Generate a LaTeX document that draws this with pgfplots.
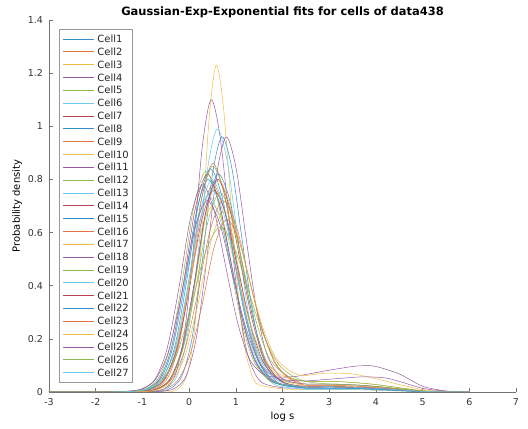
\documentclass[border=0pt]{standalone}
\usepackage{fontspec}
\setmainfont{DejaVu Sans}
\usepackage{pgfplots}
\pgfplotsset{compat=1.18}
\definecolor{mB0}{rgb}{0,0.447,0.741}
\definecolor{mO0}{rgb}{0.85,0.325,0.098}
\definecolor{mY0}{rgb}{0.929,0.694,0.125}
\definecolor{mP0}{rgb}{0.494,0.184,0.556}
\definecolor{mG0}{rgb}{0.466,0.674,0.188}
\definecolor{mC0}{rgb}{0.301,0.745,0.933}
\definecolor{mR0}{rgb}{0.635,0.078,0.184}
\colorlet{mB}{mB0!80!white}
\colorlet{mO}{mO0!80!white}
\colorlet{mY}{mY0!85!white}
\colorlet{mP}{mP0!80!white}
\colorlet{mG}{mG0!85!white}
\colorlet{mC}{mC0!85!white}
\colorlet{mR}{mR0!80!white}
\tikzset{cl/.style={smooth, line width=0.5bp, #1}}
\begin{document}
\begin{tikzpicture}
\path[use as bounding box] (-49bp,-37bp) rectangle (479bp,392bp);
\begin{axis}[
  scale only axis, width=467bp, height=372bp,
  xmin=-3, xmax=7, ymin=0, ymax=1.4,
  axis x line*=bottom, axis y line*=left,
  axis line style={black!55, line width=0.5bp},
  tick style={black!55, line width=0.5bp},
  major tick length=4bp,
  tick align=inside,
  xtick={-3,-2,-1,0,1,2,3,4,5,6,7},
  ytick={0,0.2,0.4,0.6,0.8,1,1.2,1.4},
  /pgf/number format/assume math mode=true,
  tick label style={font=\fontsize{9.5}{11}\selectfont, text=black!80},
  xticklabel style={yshift=-3bp},
  yticklabel style={xshift=-2.5bp},
  title={Gaussian-Exp-Exponential fits for cells of data438},
  every axis title shift=0pt,
  title style={at={(0.5,1)}, anchor=base, yshift=4.7bp, font=\bfseries\fontsize{11.5}{13}\selectfont},
  xlabel={log s}, ylabel={Probability density},
  label style={font=\fontsize{11}{13}\selectfont, text=black!80},
  every axis x label/.style={at={(axis description cs:0.5,-0.0672)}, anchor=center},
  every axis y label/.style={at={(axis description cs:-0.0685,0.5)}, anchor=center, rotate=90},
  legend image code/.code={\draw[#1] (0bp,0bp) -- (31bp,0bp);},
  legend style={at={(axis description cs:0.0214,0.9758)}, anchor=north west,
    draw=black!40, line width=0.5bp, fill=white, inner xsep=4bp, inner ysep=6bp,
    font=\fontsize{10}{12}\selectfont, text=black!85,
    nodes={inner sep=0pt, text height=7.3bp, text depth=0pt},
    row sep=5.53bp,
    /tikz/every odd column/.append style={column sep=2.7bp}},
  legend cell align=left,
]
\addplot[cl=mB] coordinates {(-3,0)(-1.6,0)(-1.1,.004)(-0.85,.014)(-0.6,.052)(-0.35,.168)(-0.1,.4)(0.15,.672)(0.4,.8)(0.65,.704)(0.9,.488)(1.15,.272)(1.4,.126)(1.65,.06)(1.9,.032)(2.5,.02)(3,.02)(3.5,.018)(4,.014)(4.5,.008)(5,.0024)(5.5,.0004)(6,0)};
\addplot[cl=mO] coordinates {(-3,0)(-1.5,0)(-1,.004)(-0.75,.014)(-0.5,.051)(-0.25,.164)(0,.39)(0.25,.655)(0.5,.78)(0.75,.686)(1,.476)(1.25,.263)(1.5,.12)(1.75,.054)(2,.027)(2.5,.015)(3,.015)(3.5,.0135)(4,.0105)(4.5,.006)(5,.0018)(5.5,.0003)(6,0)};
\addplot[cl=mY] coordinates {(-3,0)(-0.62,0)(-0.32,.006)(-0.17,.022)(-0.02,.08)(0.13,.258)(0.28,.615)(0.43,1.033)(0.58,1.23)(0.73,1.082)(0.88,.75)(1.03,.41)(1.18,.179)(1.33,.072)(1.48,.028)(2,.012)(2.5,.01)(3,.01)(3.5,.009)(4,.007)(4.5,.004)(5,.0012)(5.5,.0002)(6,0)};
\addplot[cl=mP] coordinates {(-3,0)(-1.03,0)(-0.655,.0055)(-0.468,.02)(-0.28,.072)(-0.093,.231)(0.095,.55)(0.283,.924)(0.47,1.1)(0.658,.968)(0.845,.671)(1.033,.369)(1.22,.165)(1.408,.07)(1.595,.032)(2,.016)(2.5,.015)(3,.015)(3.5,.0135)(4,.0105)(4.5,.006)(5,.0018)(5.5,.0003)(6,0)};
\addplot[cl=mG] coordinates {(-3,0)(-1.5,0)(-1,.004)(-0.75,.015)(-0.5,.055)(-0.25,.179)(0,.425)(0.25,.714)(0.5,.85)(0.75,.748)(1,.519)(1.25,.293)(1.5,.14)(1.75,.073)(2,.043)(2.5,.03)(3,.03)(3.5,.027)(4,.021)(4.5,.012)(5,.0036)(5.5,.0006)(6,0)};
\addplot[cl=mC] coordinates {(-3,0)(-1.1,0)(-0.675,.005)(-0.463,.018)(-0.25,.064)(-0.038,.208)(0.175,.495)(0.388,.832)(0.6,.99)(0.813,.871)(1.025,.604)(1.238,.331)(1.45,.146)(1.663,.06)(1.875,.025)(2.5,.01)(3,.01)(3.5,.009)(4,.007)(4.5,.004)(5,.0012)(5.5,.0002)(6,0)};
\addplot[cl=mR] coordinates {(-3,0)(-1.62,0)(-1.12,.004)(-0.87,.015)(-0.62,.053)(-0.37,.172)(-0.12,.41)(0.13,.689)(0.38,.82)(0.63,.722)(0.88,.5)(1.13,.279)(1.38,.129)(1.63,.061)(1.88,.032)(2.5,.02)(3,.02)(3.5,.018)(4,.014)(4.5,.008)(5,.0024)(5.5,.0004)(6,0)};
\addplot[cl=mB] coordinates {(-3,0)(-1.0,0)(-0.575,.005)(-0.363,.017)(-0.15,.062)(0.063,.202)(0.275,.48)(0.488,.806)(0.7,.96)(0.913,.845)(1.125,.586)(1.338,.323)(1.55,.145)(1.763,.063)(1.975,.029)(2.5,.015)(3,.015)(3.5,.0135)(4,.0105)(4.5,.006)(5,.0018)(5.5,.0003)(6,0)};
\addplot[cl=mO] coordinates {(-3,0)(-1.4,0)(-0.925,.004)(-0.688,.015)(-0.45,.056)(-0.213,.181)(0.025,.43)(0.263,.722)(0.5,.86)(0.738,.757)(0.975,.525)(1.213,.292)(1.45,.134)(1.688,.063)(1.925,.033)(2.5,.02)(3,.02)(3.5,.018)(4,.014)(4.5,.008)(5,.0024)(5.5,.0004)(6,0)};
\addplot[cl=mY] coordinates {(-3,0)(-1.38,0)(-0.88,.004)(-0.63,.014)(-0.38,.052)(-0.13,.168)(0.12,.4)(0.37,.672)(0.62,.8)(0.87,.704)(1.12,.488)(1.37,.274)(1.62,.13)(1.87,.065)(2.12,.037)(2.5,.025)(3,.025)(3.5,.0225)(4,.0175)(4.5,.01)(5,.003)(5.5,.0005)(6,0)};
\addplot[cl=mP] coordinates {(-3,0)(-0.91,0)(-0.485,.005)(-0.273,.017)(-0.06,.062)(0.153,.202)(0.365,.48)(0.578,.806)(0.79,.96)(1.003,.845)(1.215,.586)(1.428,.329)(1.64,.155)(1.853,.078)(2.065,.044)(2.5,.03)(3,.03)(3.5,.027)(4,.021)(4.5,.012)(5,.0036)(5.5,.0006)(6,0)};
\addplot[cl=mG] coordinates {(-3,0)(-1.65,0)(-1.15,.004)(-0.9,.015)(-0.65,.054)(-0.4,.174)(-0.15,.415)(0.1,.697)(0.35,.83)(0.6,.73)(0.85,.506)(1.1,.282)(1.35,.13)(1.6,.062)(1.85,.032)(2.5,.02)(3,.02)(3.5,.018)(4,.014)(4.5,.008)(5,.0024)(5.5,.0004)(6,0)};
\addplot[cl=mC] coordinates {(-3,0)(-1.52,0)(-1.02,.004)(-0.77,.014)(-0.52,.052)(-0.27,.168)(-0.02,.4)(0.23,.672)(0.48,.8)(0.73,.704)(0.98,.488)(1.23,.27)(1.48,.123)(1.73,.055)(1.98,.027)(2.5,.015)(3,.015)(3.5,.0135)(4,.0105)(4.5,.006)(5,.0018)(5.5,.0003)(6,0)};
\addplot[cl=mR] coordinates {(-3,0)(-1.58,0)(-1.055,.004)(-0.793,.014)(-0.53,.049)(-0.268,.16)(-0.005,.38)(0.258,.638)(0.52,.76)(0.783,.669)(1.045,.464)(1.308,.259)(1.57,.12)(1.833,.058)(2.095,.031)(2.5,.02)(3,.02)(3.5,.018)(4,.014)(4.5,.008)(5,.0024)(5.5,.0004)(6,0)};
\addplot[cl=mB] coordinates {(-3,0)(-1.38,0)(-0.88,.004)(-0.63,.015)(-0.38,.053)(-0.13,.172)(0.12,.41)(0.37,.689)(0.62,.82)(0.87,.722)(1.12,.5)(1.37,.277)(1.62,.126)(1.87,.056)(2.12,.027)(2.5,.015)(3,.015)(3.5,.0135)(4,.0105)(4.5,.006)(5,.0018)(5.5,.0003)(6,0)};
\addplot[cl=mO] coordinates {(-3,0)(-1.48,0)(-0.93,.004)(-0.655,.013)(-0.38,.047)(-0.105,.151)(0.17,.36)(0.445,.605)(0.72,.72)(0.995,.634)(1.27,.439)(1.545,.246)(1.82,.115)(2.095,.056)(2.37,.031)(2.5,.02)(3,.02)(3.5,.018)(4,.014)(4.5,.008)(5,.0024)(5.5,.0004)(6,0)};
\addplot[cl=mY] coordinates {(-3,0)(-1.7,0)(-1.15,.004)(-0.875,.013)(-0.6,.046)(-0.325,.147)(-0.05,.35)(0.225,.588)(0.5,.7)(0.775,.616)(1.05,.427)(1.325,.247)(1.6,.126)(1.875,.075)(2.15,.051)(2.5,.04)(3,.04)(3.5,.036)(4,.028)(4.5,.016)(5,.0048)(5.5,.0008)(6,0)};
\addplot[cl=mP] coordinates {(-3,0)(-1.72,0)(-1.22,.004)(-0.97,.014)(-0.72,.051)(-0.47,.164)(-0.22,.39)(0.03,.655)(0.28,.78)(0.53,.686)(0.78,.476)(1.03,.267)(1.28,.129)(1.53,.074)(1.78,.057)(2.25,.058)(2.5,.066)(3,.082)(3.5,.096)(3.75,.099)(4,.096)(4.5,.068)(5,.022)(5.5,.004)(6,0)};
\addplot[cl=mG] coordinates {(-3,0)(-1.45,0)(-0.925,.004)(-0.663,.014)(-0.4,.049)(-0.138,.158)(0.125,.375)(0.388,.63)(0.65,.75)(0.913,.66)(1.175,.458)(1.438,.264)(1.7,.133)(1.963,.078)(2.225,.051)(2.5,.04)(3,.04)(3.5,.036)(4,.028)(4.5,.016)(5,.0048)(5.5,.0008)(6,0)};
\addplot[cl=mC] coordinates {(-3,0)(-1.7,0)(-1.175,.004)(-0.913,.013)(-0.65,.048)(-0.388,.155)(-0.125,.37)(0.138,.622)(0.4,.74)(0.663,.651)(0.925,.451)(1.188,.25)(1.45,.115)(1.713,.052)(1.975,.026)(2.5,.015)(3,.015)(3.5,.0135)(4,.0105)(4.5,.006)(5,.0018)(5.5,.0003)(6,0)};
\addplot[cl=mR] coordinates {(-3,0)(-1.4,0)(-0.9,.004)(-0.65,.014)(-0.4,.052)(-0.15,.168)(0.1,.4)(0.35,.672)(0.6,.8)(0.85,.704)(1.1,.488)(1.35,.272)(1.6,.126)(1.85,.06)(2.1,.032)(2.5,.02)(3,.02)(3.5,.018)(4,.014)(4.5,.008)(5,.0024)(5.5,.0004)(6,0)};
\addplot[cl=mB] coordinates {(-3,0)(-1.55,0)(-1.05,.004)(-0.8,.015)(-0.55,.055)(-0.3,.176)(-0.05,.42)(0.2,.706)(0.45,.84)(0.7,.739)(0.95,.512)(1.2,.283)(1.45,.129)(1.7,.057)(1.95,.028)(2.5,.015)(3,.015)(3.5,.0135)(4,.0105)(4.5,.006)(5,.0018)(5.5,.0003)(6,0)};
\addplot[cl=mO] coordinates {(-3,0)(-1.3,0)(-0.775,.003)(-0.513,.012)(-0.25,.042)(0.013,.137)(0.275,.325)(0.538,.546)(0.8,.65)(1.063,.572)(1.325,.397)(1.588,.225)(1.85,.109)(2.113,.058)(2.375,.035)(2.5,.025)(3,.025)(3.5,.0225)(4,.0175)(4.5,.01)(5,.003)(5.5,.0005)(6,0)};
\addplot[cl=mY] coordinates {(-3,0)(-1.45,0)(-0.9,.003)(-0.625,.012)(-0.35,.044)(-0.075,.143)(0.2,.34)(0.475,.571)(0.75,.68)(1.025,.598)(1.3,.415)(1.575,.244)(1.85,.13)(2.125,.084)(2.4,.062)(2.75,.068)(3,.071)(3.5,.068)(4,.05)(4.5,.028)(5,.009)(5.5,.002)(6,0)};
\addplot[cl=mP] coordinates {(-3,0)(-1.82,0)(-1.27,.004)(-0.995,.013)(-0.72,.047)(-0.445,.151)(-0.17,.36)(0.105,.605)(0.38,.72)(0.655,.634)(0.93,.439)(1.205,.248)(1.48,.119)(1.755,.064)(2.03,.046)(2.5,.042)(3,.048)(3.5,.055)(3.8,.057)(4.2,.053)(4.5,.04)(5,.014)(5.5,.003)(6,0)};
\addplot[cl=mG] coordinates {(-3,0)(-1.85,0)(-1.225,.003)(-0.913,.011)(-0.6,.04)(-0.288,.13)(0.025,.31)(0.338,.521)(0.65,.62)(0.963,.546)(1.275,.378)(1.588,.217)(1.9,.108)(2.213,.061)(2.525,.039)(3,.03)(3.5,.027)(4,.021)(4.5,.012)(5,.0036)(5.5,.0006)(6,0)};
\addplot[cl=mC] coordinates {(-3,0)(-1.62,0)(-1.095,.004)(-0.833,.014)(-0.57,.049)(-0.308,.16)(-0.045,.38)(0.218,.638)(0.48,.76)(0.743,.669)(1.005,.464)(1.268,.259)(1.53,.12)(1.793,.058)(2.055,.031)(2.5,.02)(3,.02)(3.5,.018)(4,.014)(4.5,.008)(5,.0024)(5.5,.0004)(6,0)};
\legend{Cell1,Cell2,Cell3,Cell4,Cell5,Cell6,Cell7,Cell8,Cell9,Cell10,Cell11,Cell12,Cell13,Cell14,Cell15,Cell16,Cell17,Cell18,Cell19,Cell20,Cell21,Cell22,Cell23,Cell24,Cell25,Cell26,Cell27}
\end{axis}
\end{tikzpicture}
\end{document}
